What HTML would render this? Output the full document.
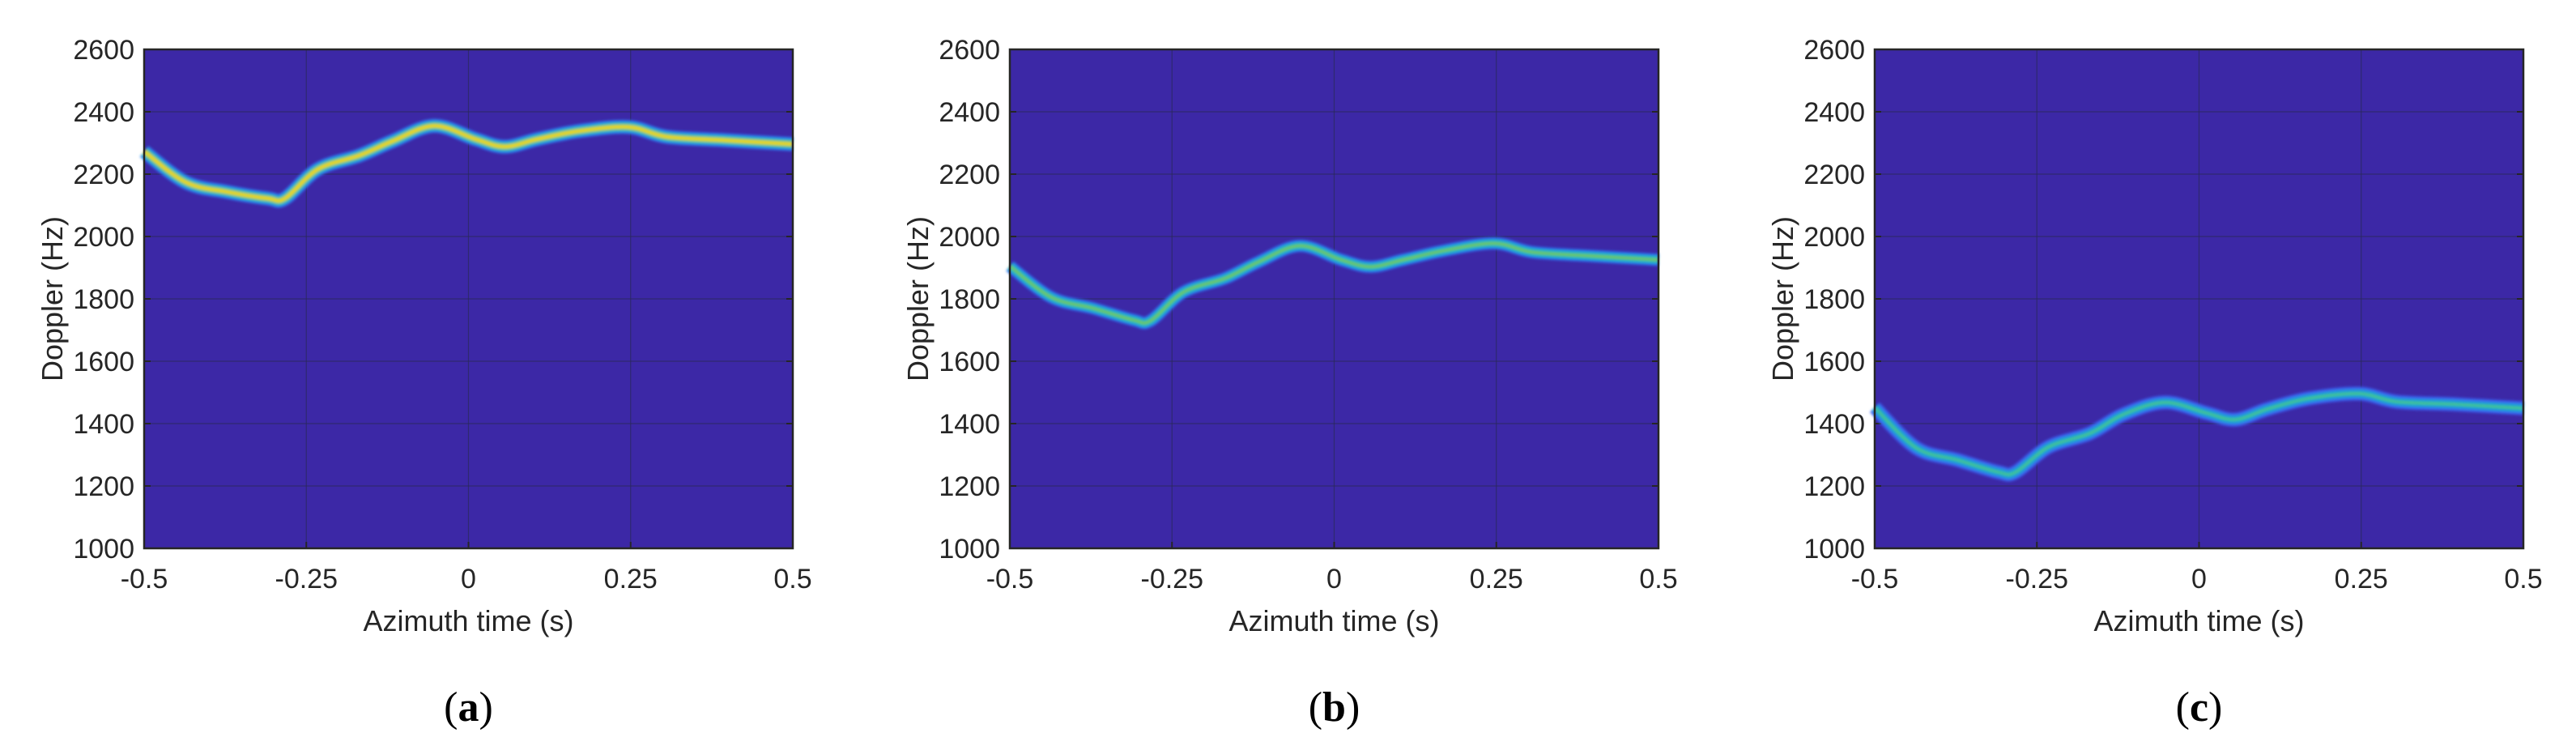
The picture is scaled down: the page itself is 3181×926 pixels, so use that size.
<!DOCTYPE html>
<html><head><meta charset="utf-8">
<style>
html,body{margin:0;padding:0;background:#fff;}
svg{display:block;}
</style></head>
<body>
<svg id="fig" width="3181" height="926" viewBox="0 0 3181 926" xmlns="http://www.w3.org/2000/svg">
<defs>
<filter id="blur" x="-5%" y="-20%" width="110%" height="140%"><feGaussianBlur stdDeviation="1.6"/></filter>
</defs>
</svg>
<script>
const times = [-0.5,-0.436,-0.372,-0.309,-0.283,-0.232,-0.168,-0.117,-0.053,0.011,0.056,0.106,0.170,0.247,0.305,0.393,0.5];
const dopplerA = [2273,2174,2143,2122,2122,2216,2260,2306,2355,2312,2288,2312,2338,2351,2320,2309,2296];
const dopplerB = [1905,1805,1770,1732,1730,1822,1866,1918,1970,1925,1903,1925,1955,1978,1950,1938,1925];
const dopplerC = [1452,1322,1283,1244,1244,1325,1369,1429,1468,1434,1413,1447,1481,1496,1470,1462,1449];
const yTicks = [1000,1200,1400,1600,1800,2000,2200,2400,2600];
const xTicks = [-0.5,-0.25,0,0.25,0.5];
const xTickLabels = ['-0.5','-0.25','0','0.25','0.5'];
const captions = ['a','b','c'];

const NS='http://www.w3.org/2000/svg';
const svg=document.getElementById('fig');
const panels=[
 {left:178,data:dopplerA,colors:['#2f78f2','#1fb3c6','#8ccd3c','#f2d52a'],widths:[17,12,7,3.5]},
 {left:1247,data:dopplerB,colors:['#2f70f0','#18b0cc','#3cc08c','#7fcb4a'],widths:[15,10,5,2]},
 {left:2315,data:dopplerC,colors:['#3a60f0','#2490e0','#19b4c0','#4cc485'],widths:[17,11,6,2.5]}
];
const TOP=61,BOT=677,W=801;
function mk(tag,attrs,parent){const e=document.createElementNS(NS,tag);for(const k in attrs)e.setAttribute(k,attrs[k]);(parent||svg).appendChild(e);return e;}

panels.forEach((p,i)=>{
  const xs=t=>p.left+(t+0.5)*W;
  const ys=v=>BOT-(v-1000)/1600*(BOT-TOP);
  const g=mk('g',{});
  
  
  const bg=mk('rect',{x:p.left,y:TOP,width:W,height:BOT-TOP,fill:'#3c28a6'},g);
  
  
  // grid
  yTicks.forEach(v=>{
    const gl=mk('line',{x1:p.left,x2:p.left+W,y1:ys(v),y2:ys(v),stroke:'#2a2a5a','stroke-width':1.2,'stroke-opacity':0.7},g);
    
    
    const tk=mk('line',{x1:p.left,x2:p.left+8,y1:ys(v),y2:ys(v),stroke:'#262626','stroke-width':2},g);
    
    
    const tk2=mk('line',{x1:p.left+W-8,x2:p.left+W,y1:ys(v),y2:ys(v),stroke:'#262626','stroke-width':2},g);
    
    
    const lb=mk('text',{x:p.left-12,y:ys(v)+12,'text-anchor':'end','font-family':'Liberation Sans, sans-serif','font-size':34,fill:'#262626'},g);
    lb.textContent=v;
    
    
  });
  xTicks.forEach((t,j)=>{
    const gl=mk('line',{x1:xs(t),x2:xs(t),y1:TOP,y2:BOT,stroke:'#2a2a5a','stroke-width':1.2,'stroke-opacity':0.7},g);
    
    
    const tk=mk('line',{x1:xs(t),x2:xs(t),y1:BOT-8,y2:BOT,stroke:'#262626','stroke-width':2},g);
    
    
    const lb=mk('text',{x:xs(t),y:726,'text-anchor':'middle','font-family':'Liberation Sans, sans-serif','font-size':34,fill:'#262626'},g);
    lb.textContent=xTickLabels[j];
    
    
  });
  // curve (Catmull-Rom)
  const pts=times.map((t,k)=>[xs(t),ys(p.data[k])]);
  let d='M'+pts[0][0]+','+pts[0][1];
  for(let k=0;k<pts.length-1;k++){
    const p0=pts[Math.max(0,k-1)],p1=pts[k],p2=pts[k+1],p3=pts[Math.min(pts.length-1,k+2)];
    const c1=[p1[0]+(p2[0]-p0[0])/6,p1[1]+(p2[1]-p0[1])/6];
    const c2=[p2[0]-(p3[0]-p1[0])/6,p2[1]-(p3[1]-p1[1])/6];
    d+=' C'+c1[0]+','+c1[1]+' '+c2[0]+','+c2[1]+' '+p2[0]+','+p2[1];
  }
  const cg=mk('g',{filter:'url(#blur)'},g);
  
  
  p.colors.forEach((c,k)=>{
    const path=mk('path',{d:d,fill:'none',stroke:c,'stroke-width':p.widths[k],'stroke-linecap':'butt','stroke-linejoin':'round'},cg);
    
    
  });
  const clip=mk('rect',{x:p.left,y:TOP,width:W,height:BOT-TOP,fill:'none',stroke:'#262626','stroke-width':2.5},g);
  
  
  // axis titles
  const xt=mk('text',{x:p.left+W/2,y:779,'text-anchor':'middle','font-family':'Liberation Sans, sans-serif','font-size':36,fill:'#262626'},g);
  xt.textContent='Azimuth time (s)';
  
  
  const yx=p.left-101,yy=(TOP+BOT)/2;
  const yt=mk('text',{x:yx,y:yy,'text-anchor':'middle','font-family':'Liberation Sans, sans-serif','font-size':36,fill:'#262626',transform:'rotate(-90 '+yx+' '+yy+')'},g);
  yt.textContent='Doppler (Hz)';
  
  
  const cap=mk('text',{x:p.left+W/2,y:890,'text-anchor':'middle','font-family':'Liberation Serif, serif','font-size':52,fill:'#000'},g);
  cap.innerHTML='(<tspan font-weight="bold">'+captions[i]+'</tspan>)';
  
  
});
</script>
</body></html>
